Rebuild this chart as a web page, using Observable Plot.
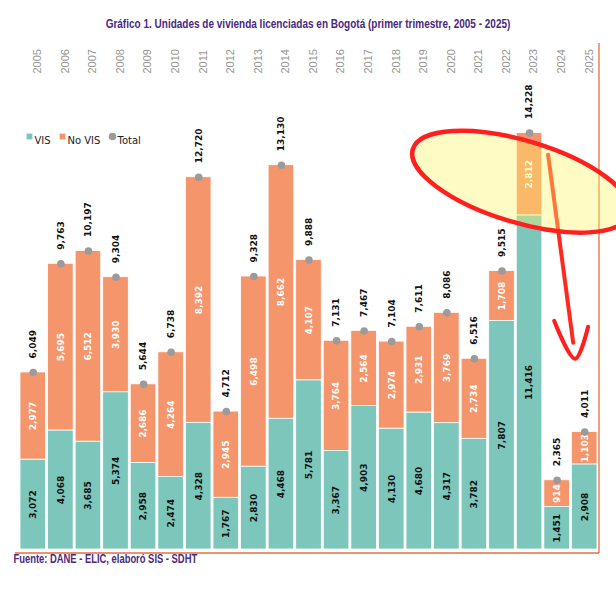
<!DOCTYPE html>
<html><head><meta charset="utf-8">
<script src="https://cdn.jsdelivr.net/npm/d3@7"></script>
<script src="https://cdn.jsdelivr.net/npm/@observablehq/plot@0.6"></script>
<style>
body{margin:0;background:#fff;}
#chart svg{display:block;}
</style>
</head><body><div id="chart"></div>
<script>
// ---- data ----
const years  = [2005,2006,2007,2008,2009,2010,2011,2012,2013,2014,2015,2016,2017,2018,2019,2020,2021,2022,2023,2024,2025];
const vis    = [3072,4068,3685,5374,2958,2474,4328,1767,2830,4468,5781,3367,4903,4130,4680,4317,3782,7807,11416,1451,2908];
const noVis  = [2977,5695,6512,3930,2686,4264,8392,2945,6498,8662,4107,3764,2564,2974,2931,3769,2734,1708,2812,914,1103];
const totals = [6049,9763,10197,9304,5644,6738,12720,4712,9328,13130,9888,7131,7467,7104,7611,8086,6516,9515,14228,2365,4011];
const legendLabels = ["VIS","No VIS","Total"];
const titleText = "Gráfico 1. Unidades de vivienda licenciadas en Bogotá (primer trimestre, 2005 - 2025)";
const sourceText = "Fuente: DANE - ELIC, elaboró SIS - SDHT";
// annotation (hand-drawn highlight) in data units
const ellipseCenter = [{year: 2022.71, value: 12552}];
const arrowLine = [{year: 2023.69, value: 13474}, {year: 2024.60, value: 7046}];
const arrowHead = [{year: 2023.91, value: 7798}, {year: 2024.67, value: 6498}, {year: 2025.14, value: 7593}];

const TEAL = "#7CC6BB", ORANGE = "#F5956B", GRAY = "#9B9B9B", PURPLE = "#4B2A7E";
const fmt = d3.format(",");
const rows = years.map((y, i) => ({year: y, vis: vis[i], noVis: noVis[i], total: totals[i]}));
const segVis = rows.map(d => ({year: d.year, y1: 0, y2: d.vis, value: d.vis}));
const segNo = rows.map(d => ({year: d.year, y1: d.vis, y2: d.total, value: d.noVis}));

const labelFont = "DejaVu Sans, sans-serif";
const condensed = "Liberation Sans, sans-serif";

function decorations(index, scales, values, dim) {
  const {x, y} = scales;
  const g = d3.create("svg:g");
  const x0 = x(2004.5), xr = dim.width - 17, yb = y(0) + 4;
  // frame lines
  g.append("line").attr("x1", x0 - 4).attr("x2", xr).attr("y1", yb).attr("y2", yb)
    .attr("stroke", "#E46F3E").attr("stroke-width", 1.3);
  g.append("line").attr("x1", xr).attr("x2", xr).attr("y1", 43).attr("y2", yb)
    .attr("stroke", "#E46F3E").attr("stroke-width", 1.3);
  // arrow shaft
  g.append("line")
    .attr("x1", x(arrowLine[0].year)).attr("y1", y(arrowLine[0].value))
    .attr("x2", x(arrowLine[1].year)).attr("y2", y(arrowLine[1].value))
    .attr("stroke", "#FF2A1F").attr("stroke-width", 4).attr("stroke-linecap", "round");
  // highlight ellipse
  const c = ellipseCenter[0];
  const cx = x(c.year), cy = y(c.value);
  g.append("ellipse").attr("cx", cx).attr("cy", cy).attr("rx", 113).attr("ry", 41)
    .attr("transform", `rotate(16.7 ${cx} ${cy})`)
    .attr("fill", "#FFF566").attr("fill-opacity", 0.38)
    .attr("stroke", "#FF1F1F").attr("stroke-width", 4.5);
  // arrow head
  const line = d3.line().x(d => x(d.year)).y(d => y(d.value)).curve(d3.curveCatmullRom);
  g.append("path").attr("d", line(arrowHead)).attr("fill", "none")
    .attr("stroke", "#FF1F1F").attr("stroke-width", 4).attr("stroke-linecap", "round");
  return g.node();
}

const chart = Plot.plot({
  width: 616, height: 592,
  marginTop: 110, marginBottom: 43, marginLeft: 19, marginRight: 18,
  x: {type: "linear", domain: [2004.5, 2025.5], axis: null},
  y: {domain: [0, 15000], axis: null},
  style: {fontFamily: labelFont, background: "#fff", overflow: "visible"},
  marks: [
    // title and source
    Plot.text([titleText], {frameAnchor: "top", dy: -92, dx: -1, text: d => d, fill: PURPLE,
      fontFamily: condensed, fontWeight: "bold", fontSize: 13}),
    Plot.text([sourceText], {frameAnchor: "bottom-left", dx: -6, dy: 13, textAnchor: "start", text: d => d, fill: PURPLE,
      fontFamily: condensed, fontWeight: "bold", fontSize: 13}),
    // year labels at top
    Plot.text(years, {x: d => d, text: d => String(d), frameAnchor: "top", dy: -37, rotate: -90,
      textAnchor: "start", fill: "#959595", fontSize: 11, fontFamily: "Liberation Sans, sans-serif", letterSpacing: 0.8}),
    // stacked bars
    Plot.rectY(segVis, {x1: d => d.year - 0.5, x2: d => d.year + 0.5, y1: "y1", y2: "y2",
      fill: TEAL, stroke: "white", strokeWidth: 0.8, insetLeft: 1, insetRight: 1}),
    Plot.rectY(segNo, {x1: d => d.year - 0.5, x2: d => d.year + 0.5, y1: "y1", y2: "y2",
      fill: ORANGE, stroke: "white", strokeWidth: 0.8, insetLeft: 1, insetRight: 1}),
    // segment labels
    Plot.text(segVis, {x: "year", y: d => (d.y1 + d.y2) / 2, text: d => fmt(d.value), rotate: -90,
      fill: "#111", fontWeight: "bold", fontSize: 9}),
    Plot.text(segNo, {x: "year", y: d => (d.y1 + d.y2) / 2, text: d => fmt(d.value), rotate: -90,
      fill: "#fff", fontWeight: "bold", fontSize: 9}),
    // totals
    Plot.dot(rows, {x: "year", y: "total", r: 3.8, fill: GRAY}),
    Plot.text(rows, {x: "year", y: "total", text: d => fmt(d.total), rotate: -90, textAnchor: "start",
      dy: -14, fill: "#111", fontWeight: "bold", fontSize: 9}),
    // legend
    Plot.dot([legendLabels[0]], {frameAnchor: "top-left", dx: 10, dy: 26, symbol: "square", r: 3.3, fill: TEAL}),
    Plot.text([legendLabels[0]], {frameAnchor: "top-left", dx: 15, dy: 26, textAnchor: "start", text: d => d, fill: "#222", fontSize: 10}),
    Plot.dot([legendLabels[1]], {frameAnchor: "top-left", dx: 43, dy: 26, symbol: "square", r: 3.3, fill: ORANGE}),
    Plot.text([legendLabels[1]], {frameAnchor: "top-left", dx: 48, dy: 26, textAnchor: "start", text: d => d, fill: "#222", fontSize: 10}),
    Plot.dot([legendLabels[2]], {frameAnchor: "top-left", dx: 93, dy: 26, r: 3.8, fill: GRAY}),
    Plot.text([legendLabels[2]], {frameAnchor: "top-left", dx: 98, dy: 26, textAnchor: "start", text: d => d, fill: "#222", fontSize: 10}),
    // highlight annotation + frame lines
    decorations
  ]
});
document.getElementById("chart").append(chart);
// narrow the title and source horizontally (the reference uses a condensed typeface)
d3.select(chart).selectAll("text").each(function() {
  const isTitle = this.textContent === titleText;
  const target = isTitle ? 405 : this.textContent === sourceText ? 184 : null;
  if (!target) return;
  const b = this.getBBox();
  const cons = this.transform.baseVal.consolidate();
  const tx = cons ? cons.matrix.e : 0;
  const ox = tx + (isTitle ? b.x + b.width / 2 : b.x);
  const s = target / b.width;
  const wrap = document.createElementNS("http://www.w3.org/2000/svg", "g");
  wrap.setAttribute("transform", `translate(${ox},0) scale(${s},1) translate(${-ox},0)`);
  this.parentNode.insertBefore(wrap, this);
  wrap.appendChild(this);
});
</script>
</body></html>
